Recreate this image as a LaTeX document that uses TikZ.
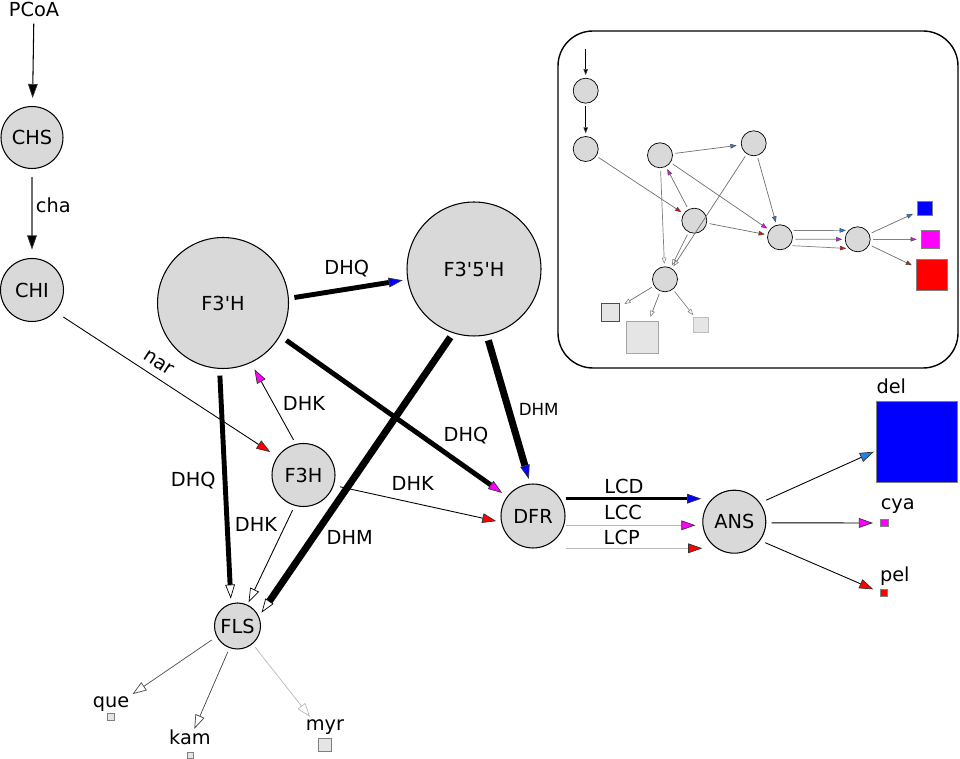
\documentclass[tikz,border=0pt]{standalone}
\usepackage{fontspec}
\setmainfont{DejaVu Sans}[Ligatures=TeXOff]
\usepackage{tikz}
\usetikzlibrary{positioning, arrows.meta, shapes}
\usepackage{xcolor}
\definecolor{enzgray}{RGB}{217,217,217}
\definecolor{boxgray}{RGB}{229,229,229}
\definecolor{skyblue}{RGB}{30,130,230}
\definecolor{fuchsia}{RGB}{255,0,255}
\definecolor{purered}{RGB}{255,0,0}
\definecolor{pureblue}{RGB}{0,0,255}
\definecolor{edgegray}{RGB}{110,110,110}
\definecolor{palegray}{RGB}{185,185,185}

\begin{document}
\begin{tikzpicture}[x=0.02cm, y=-0.02cm, font=\fontsize{11}{13}\selectfont,
    enz/.style={circle, draw, fill=enzgray, inner sep=0pt, line width=0.6pt},
    inode/.style={circle, draw, fill=enzgray, inner sep=0pt, line width=0.4pt, minimum size=0.5cm},
    sq/.style={rectangle, draw=gray, inner sep=0pt, line width=0.4pt},
    txt/.style={inner sep=0pt},
    arrowto/.style={-{Triangle[length=8pt, width=5.5pt, line width=0.4pt, color=black!80, fill=#1]}},
    hollowto/.style={-{Triangle[open, length=8pt, width=5.5pt, line width=0.4pt]}},
    iarrowto/.style={-{Triangle[length=3.5pt, width=2.6pt, line width=0.3pt, color=black!70, fill=#1]}},
    ihollowto/.style={-{Triangle[open, length=3.5pt, width=2.6pt, line width=0.3pt]}},
    iedge/.style={edgegray, line width=0.4pt, shorten <=1.5pt, shorten >=1.5pt}]
  \useasboundingbox (0,0) rectangle (960,759);

  % enzymes
  \node[txt] (pcoa) at (34,9) {PCoA};
  \node[enz, minimum size=1.24cm] (chs) at (32,137.5) {CHS};
  \node[enz, minimum size=1.26cm] (chi) at (32,290) {CHI};
  \node[enz, minimum size=2.62cm] (f3ph) at (223,303) {F3'H};
  \node[enz, minimum size=2.68cm] (f35h) at (474,269) {F3'5'H};
  \node[enz, minimum size=1.26cm] (f3h) at (303.5,475) {F3H};
  \node[enz, minimum size=1.28cm] (dfr) at (533,516) {DFR};
  \node[enz, minimum size=1.26cm] (ans) at (734.3,521.7) {ANS};
  \node[enz, minimum size=0.92cm] (fls) at (237.5,626) {FLS};

  % products
  \node[sq, fill=pureblue, minimum size=1.62cm] (del) at (917,442) {};
  \node[sq, fill=fuchsia, minimum size=0.15cm] (cya) at (884.5,523) {};
  \node[sq, fill=purered, minimum size=0.14cm] (pel) at (883.5,593.3) {};
  \node[sq, fill=boxgray, minimum size=0.14cm] (que) at (111,717.3) {};
  \node[sq, fill=boxgray, minimum size=0.12cm] (kam) at (190,755) {};
  \node[sq, fill=boxgray, minimum size=0.26cm] (myr) at (325,745) {};
  \node[txt, above right=3.8pt and 0pt of del.north west] (dellbl) {del};
  \node[txt, above right=3pt and 0pt of cya.north west] (cyalbl) {cya};
  \node[txt, above right=2pt and 0pt of pel.north west] (pellbl) {pel};
  \node[txt, above=1pt of que] (quelbl) {que};
  \node[txt, above=3.6pt of kam] (kamlbl) {kam};
  \node[txt, above=1.8pt of myr] (myrlbl) {myr};

  % edge labels
  \node[txt] (lcha) at (53.3,205) {cha};
  \node[txt, rotate=-33] (lnar) at (159,363) {nar};
  \node[txt] (ldhka) at (304,403.3) {DHK};
  \node[txt] (ldhqa) at (346.7,269) {DHQ};
  \node[txt] (ldhqb) at (466,436) {DHQ};
  \node[txt, font=\fontsize{9.5}{11}\selectfont] (ldhma) at (538.7,409) {DHM};
  \node[txt] (ldhkb) at (412.7,483.3) {DHK};
  \node[txt] (ldhqc) at (193.3,480.7) {DHQ};
  \node[txt] (ldhkc) at (256,524.3) {DHK};
  \node[txt] (ldhmb) at (349.7,537.3) {DHM};
  \node[txt] (llcd) at (624,486) {LCD};
  \node[txt] (llcc) at (623,512.7) {LCC};
  \node[txt] (llcp) at (621.7,537.3) {LCP};

  % edges
  \draw[arrowto=black, line width=0.6pt, shorten <=4pt, shorten >=4.5pt] (pcoa) -- (chs);
  \draw[arrowto=black, edgegray, line width=0.6pt, shorten <=4.5pt, shorten >=4.8pt] (chs) -- (chi);
  \draw[arrowto=purered, line width=0.5pt, shorten <=5.4pt, shorten >=4.7pt] (chi.-43) -- (f3h.145);
  \draw[arrowto=fuchsia, line width=0.5pt, shorten <=2.6pt, shorten >=4.2pt] (f3h.104) -- (f3ph.-65);
  \draw[arrowto=pureblue, line width=2.8pt, shorten <=3.2pt, shorten >=2.7pt] (f3ph.4) -- (f35h.189);
  \draw[arrowto=fuchsia, line width=2.8pt, shorten <=4.3pt, shorten >=3.4pt] (f3ph.-30) -- (dfr.143);
  \draw[arrowto=pureblue, line width=4pt, shorten <=3pt, shorten >=2.7pt] (f35h.-79) -- (dfr.95);
  \draw[hollowto, line width=4pt, shorten <=2.8pt, shorten >=2.6pt] (f35h.-108) -- (fls.24);
  \draw[hollowto, line width=2.8pt, shorten <=3.8pt, shorten >=2.7pt] (f3ph.-93) -- (fls.106);
  \draw[hollowto, line width=0.5pt, shorten <=2.8pt, shorten >=1.5pt] (f3h.-106) -- (fls.65);
  \draw[arrowto=purered, line width=0.5pt, shorten <=3.7pt, shorten >=2.8pt] (f3h.-19.5) -- (dfr.191);

  \coordinate (lcd0) at ([yshift=0.346cm]dfr.east);
  \coordinate (lcc0) at ([yshift=-0.186cm]dfr.east);
  \coordinate (lcp0) at ([yshift=-0.646cm]dfr.east);
  \draw[arrowto=pureblue, line width=2pt, shorten >=0.6pt] (lcd0) -- (lcd0 -| ans.west);
  \draw[arrowto=fuchsia, palegray, line width=0.6pt, shorten >=3.9pt] (lcc0) -- (lcc0 -| ans.west);
  \draw[arrowto=purered, palegray, line width=0.6pt] (lcp0) -- (lcp0 -| ans.west);

  \draw[arrowto=skyblue, line width=0.5pt, shorten <=3.8pt, shorten >=1.4pt] (ans.36.5) -- (del.192);
  \draw[arrowto=fuchsia, line width=0.5pt, shorten <=3pt, shorten >=4.2pt] (ans.-2.5) -- (cya.west);
  \draw[arrowto=purered, line width=0.5pt, shorten <=3.1pt, shorten >=3.9pt] (ans.-36) -- (pel.162);

  \draw[hollowto, black!70, line width=0.4pt, shorten <=3.4pt, shorten >=2pt] (fls.-153) -- (quelbl.north east);
  \draw[hollowto, black!75, line width=0.4pt, shorten <=2.4pt, shorten >=0.5pt] (fls.-110) -- ([xshift=0.08cm]kamlbl.north);
  \draw[hollowto, palegray, line width=0.4pt, shorten <=2.3pt, shorten >=1.8pt] (fls.-50) -- ([xshift=0.13cm]myrlbl.north west);

  % overview inset
  \draw[line width=0.8pt, rounded corners=0.7cm] (558,31) rectangle (958,368);
  \coordinate (itop) at (585.7,46);
  \node[inode] (ichs) at (585.7,90.7) {};
  \node[inode] (ichi) at (585.7,149) {};
  \node[inode] (if3ph) at (660,155.3) {};
  \node[inode] (if35h) at (753.7,143.3) {};
  \node[inode] (if3h) at (694.3,220.7) {};
  \node[inode] (idfr) at (780,237.3) {};
  \node[inode] (ians) at (857.7,239.3) {};
  \node[inode] (ifls) at (665,279.3) {};
  \node[sq, fill=pureblue, minimum size=0.29cm] (idel) at (925,208.3) {};
  \node[sq, fill=fuchsia, minimum size=0.37cm] (icya) at (930.3,239.3) {};
  \node[sq, fill=purered, minimum size=0.63cm] (ipel) at (931.7,274.7) {};
  \node[sq, fill=boxgray, draw=black!70, minimum size=0.37cm] (ique) at (610.3,312.5) {};
  \node[sq, fill=boxgray, draw=gray!70, minimum size=0.64cm] (ikam) at (642.2,337.8) {};
  \node[sq, fill=boxgray, draw=gray!50, minimum size=0.3cm] (imyr) at (700.8,324.8) {};

  \draw[iarrowto=black, iedge, black] (itop) -- (ichs);
  \draw[iarrowto=black, iedge, black] (ichs) -- (ichi);
  \draw[iarrowto=purered, iedge] (ichi) -- (if3h);
  \draw[iarrowto=fuchsia, iedge] (if3h) -- (if3ph);
  \draw[iarrowto=skyblue, iedge, shorten >=2.5pt] (if3ph) -- (if35h);
  \draw[iarrowto=fuchsia, iedge] (if3ph) -- (idfr);
  \draw[iarrowto=skyblue, iedge] (if35h) -- (idfr);
  \draw[ihollowto, iedge] (if35h) -- (ifls);
  \draw[ihollowto, iedge, gray] (if3ph) -- (ifls);
  \draw[ihollowto, iedge] (if3h) -- (ifls);
  \draw[iarrowto=purered, iedge] (if3h) -- (idfr);
  \draw[iarrowto=skyblue, iedge, gray] (idfr.32) -- (ians.136);
  \draw[iarrowto=fuchsia, iedge, gray] (idfr.-9) -- (ians.180);
  \draw[iarrowto=purered, iedge, gray] (idfr.-40) -- (ians.226);
  \draw[iarrowto=skyblue, iedge, shorten >=2.8pt] (ians) -- (idel);
  \draw[iarrowto=fuchsia, iedge, gray, shorten >=2.3pt] (ians) -- (icya);
  \draw[iarrowto=purered, iedge, shorten >=2.3pt] (ians) -- (ipel);
  \draw[ihollowto, iedge, shorten >=3pt] (ifls) -- (ique);
  \draw[ihollowto, iedge, shorten >=2.8pt] (ifls) -- (ikam);
  \draw[ihollowto, iedge, gray, shorten >=1.3pt] (ifls) -- (imyr);
\end{tikzpicture}
\end{document}
